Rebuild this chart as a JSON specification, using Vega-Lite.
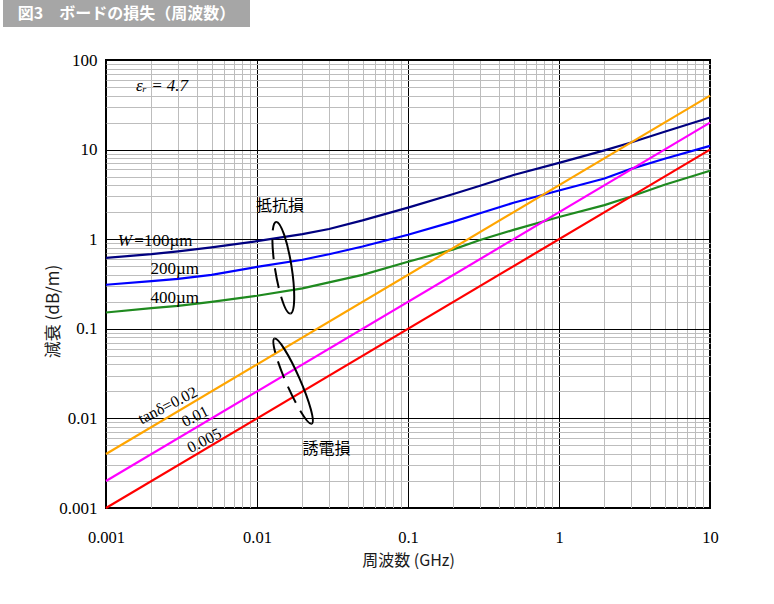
{
  "$schema": "https://vega.github.io/schema/vega-lite/v6.json",
  "padding": 0,
  "background": "white",
  "config": {"view": {"stroke": null}, "font": "Liberation Serif"},
  "bounds": "flush",
  "spacing": 33,
  "datasets": {
    "header": [{"t": "図3　ボードの損失（周波数）"}],
    "curves": [
      {"series": "W=100µm", "f": 0.001, "a": 0.62},
      {"series": "W=100µm", "f": 0.002, "a": 0.68},
      {"series": "W=100µm", "f": 0.003, "a": 0.73},
      {"series": "W=100µm", "f": 0.005, "a": 0.81},
      {"series": "W=100µm", "f": 0.01, "a": 0.95},
      {"series": "W=100µm", "f": 0.02, "a": 1.14},
      {"series": "W=100µm", "f": 0.03, "a": 1.3},
      {"series": "W=100µm", "f": 0.05, "a": 1.62},
      {"series": "W=100µm", "f": 0.1, "a": 2.25},
      {"series": "W=100µm", "f": 0.2, "a": 3.2},
      {"series": "W=100µm", "f": 0.3, "a": 3.95},
      {"series": "W=100µm", "f": 0.5, "a": 5.2},
      {"series": "W=100µm", "f": 1, "a": 7.1},
      {"series": "W=100µm", "f": 2, "a": 9.8},
      {"series": "W=100µm", "f": 3, "a": 12.0},
      {"series": "W=100µm", "f": 5, "a": 15.8},
      {"series": "W=100µm", "f": 10, "a": 22.8},
      {"series": "200µm", "f": 0.001, "a": 0.31},
      {"series": "200µm", "f": 0.002, "a": 0.34},
      {"series": "200µm", "f": 0.003, "a": 0.36},
      {"series": "200µm", "f": 0.005, "a": 0.4},
      {"series": "200µm", "f": 0.01, "a": 0.49},
      {"series": "200µm", "f": 0.02, "a": 0.59},
      {"series": "200µm", "f": 0.03, "a": 0.68},
      {"series": "200µm", "f": 0.05, "a": 0.83},
      {"series": "200µm", "f": 0.1, "a": 1.12},
      {"series": "200µm", "f": 0.2, "a": 1.57},
      {"series": "200µm", "f": 0.3, "a": 1.95},
      {"series": "200µm", "f": 0.5, "a": 2.55},
      {"series": "200µm", "f": 1, "a": 3.5},
      {"series": "200µm", "f": 2, "a": 4.75},
      {"series": "200µm", "f": 3, "a": 6.1},
      {"series": "200µm", "f": 5, "a": 7.9},
      {"series": "200µm", "f": 10, "a": 11.0},
      {"series": "400µm", "f": 0.001, "a": 0.152},
      {"series": "400µm", "f": 0.002, "a": 0.17},
      {"series": "400µm", "f": 0.003, "a": 0.18},
      {"series": "400µm", "f": 0.005, "a": 0.2},
      {"series": "400µm", "f": 0.01, "a": 0.234},
      {"series": "400µm", "f": 0.02, "a": 0.283},
      {"series": "400µm", "f": 0.03, "a": 0.33},
      {"series": "400µm", "f": 0.05, "a": 0.4},
      {"series": "400µm", "f": 0.1, "a": 0.56},
      {"series": "400µm", "f": 0.2, "a": 0.77},
      {"series": "400µm", "f": 0.3, "a": 0.98},
      {"series": "400µm", "f": 0.5, "a": 1.27},
      {"series": "400µm", "f": 1, "a": 1.77},
      {"series": "400µm", "f": 2, "a": 2.4},
      {"series": "400µm", "f": 3, "a": 3.0},
      {"series": "400µm", "f": 5, "a": 4.05},
      {"series": "400µm", "f": 10, "a": 5.8},
      {"series": "tanδ=0.02", "f": 0.001, "a": 0.004},
      {"series": "tanδ=0.02", "f": 10, "a": 40},
      {"series": "tanδ=0.01", "f": 0.001, "a": 0.002},
      {"series": "tanδ=0.01", "f": 10, "a": 20},
      {"series": "tanδ=0.005", "f": 0.001, "a": 0.001},
      {"series": "tanδ=0.005", "f": 10, "a": 10}
    ],
    "serifLabels": [
      {"t": "=100µm", "f": 0.00154, "a": 0.945},
      {"t": "200µm", "f": 0.00197, "a": 0.46},
      {"t": "400µm", "f": 0.00197, "a": 0.219}
    ],
    "italicLabels": [
      {"t": "W", "f": 0.001196, "a": 0.945},
      {"t": "εᵣ = 4.7", "f": 0.00158, "a": 51.2}
    ],
    "cjkLabels": [
      {"t": "抵抗損", "f": 0.01422, "a": 2.32},
      {"t": "誘電損", "f": 0.0289, "a": 0.00458}
    ],
    "tanLabels": [
      {"t": "tanδ=0.02", "f": 0.002564, "a": 0.01396},
      {"t": "0.01", "f": 0.00389, "a": 0.01051},
      {"t": "0.005", "f": 0.00448, "a": 0.00564}
    ],
    "ellipseR": [{"f": 0.01493, "a": 0.4804}],
    "ellipseD": [{"f": 0.01734, "a": 0.02603}]
  },
  "vconcat": [
    {
      "width": 247,
      "height": 27,
      "view": {"fill": "#a6a6a6", "stroke": null},
      "data": {"name": "header"},
      "mark": {"type": "text", "color": "white", "font": "Noto Sans CJK JP", "fontWeight": "bold", "fontSize": 16, "align": "center", "baseline": "middle"},
      "encoding": {"text": {"field": "t"}}
    },
    {
      "bounds": "flush",
      "spacing": 102,
      "hconcat": [
        {
          "width": 1,
          "height": 1,
          "data": {"name": "header"},
          "mark": {"type": "point", "opacity": 0}
        },
        {
          "width": 604,
          "height": 448,
          "view": {"stroke": "black", "strokeWidth": 2},
          "layer": [
            {
              "data": {"name": "curves"},
              "mark": {"type": "line", "strokeWidth": 2.2},
              "encoding": {
                "x": {
                  "field": "f", "type": "quantitative",
                  "scale": {"type": "log", "domain": [0.001, 10], "nice": false},
                  "axis": {
                    "values": [0.001,0.002,0.003,0.004,0.005,0.006,0.007,0.008,0.009,0.01,0.02,0.03,0.04,0.05,0.06,0.07,0.08,0.09,0.1,0.2,0.3,0.4,0.5,0.6,0.7,0.8,0.9,1,2,3,4,5,6,7,8,9,10],
                    "grid": true,
                    "gridColor": {"condition": {"test": "abs(log(datum.value)/LN10 - round(log(datum.value)/LN10)) < 0.001", "value": "#000000"}, "value": "#bdbdbd"},
                    "gridWidth": 1,
                    "ticks": false,
                    "domain": false,
                    "labelExpr": "abs(log(datum.value)/LN10 - round(log(datum.value)/LN10)) < 0.001 ? format(datum.value, '~g') : ''",
                    "labelOverlap": false,
                    "labelFlush": false,
                    "labelFont": "Liberation Serif",
                    "labelFontSize": 16.5,
                    "labelColor": "#000000",
                    "labelPadding": 21,
                    "title": "周波数 (GHz)",
                    "titleFont": "Noto Sans CJK JP",
                    "titleFontSize": 16,
                    "titleFontWeight": "normal",
                    "titleColor": "#1a1a1a",
                    "titleY": 52,
                    "titleBaseline": "middle"
                  }
                },
                "y": {
                  "field": "a", "type": "quantitative",
                  "scale": {"type": "log", "domain": [0.001, 100], "nice": false},
                  "axis": {
                    "values": [0.001,0.002,0.003,0.004,0.005,0.006,0.007,0.008,0.009,0.01,0.02,0.03,0.04,0.05,0.06,0.07,0.08,0.09,0.1,0.2,0.3,0.4,0.5,0.6,0.7,0.8,0.9,1,2,3,4,5,6,7,8,9,10,20,30,40,50,60,70,80,90,100],
                    "grid": true,
                    "gridColor": {"condition": {"test": "abs(log(datum.value)/LN10 - round(log(datum.value)/LN10)) < 0.001", "value": "#000000"}, "value": "#bdbdbd"},
                    "gridWidth": 1,
                    "ticks": false,
                    "domain": false,
                    "labelExpr": "abs(log(datum.value)/LN10 - round(log(datum.value)/LN10)) < 0.001 ? format(datum.value, '~g') : ''",
                    "labelOverlap": false,
                    "labelFlush": false,
                    "labelFont": "Liberation Serif",
                    "labelFontSize": 17,
                    "labelColor": "#000000",
                    "labelPadding": 9,
                    "title": "減衰 (dB/m)",
                    "titleFont": "Noto Sans CJK JP",
                    "titleFontSize": 17,
                    "titleFontWeight": "normal",
                    "titleColor": "#1a1a1a",
                    "titleX": -53,
                    "titleY": 251,
                    "titleBaseline": "middle",
                    "titleAlign": "center",
                    "titleAngle": -90
                  }
                },
                "color": {
                  "field": "series", "type": "nominal",
                  "scale": {
                    "domain": ["W=100µm", "200µm", "400µm", "tanδ=0.02", "tanδ=0.01", "tanδ=0.005"],
                    "range": ["#000080", "#0000ff", "#1f8a1f", "#ffa500", "#ff00ff", "#ff0000"]
                  },
                  "legend": null
                }
              }
            },
            {
              "data": {"name": "ellipseR"},
              "mark": {"type": "point", "shape": "M0,-1C0.0994,-1,0.18,-0.5523,0.18,0C0.18,0.5523,0.0994,1,0,1", "size": 8600, "angle": -8.9, "filled": false, "stroke": "#000000", "strokeWidth": 2, "opacity": 1},
              "encoding": {"x": {"field": "f", "type": "quantitative"}, "y": {"field": "a", "type": "quantitative"}}
            },
            {
              "data": {"name": "ellipseR"},
              "mark": {"type": "point", "shape": "M0,1C-0.0994,1,-0.18,0.5523,-0.18,0C-0.18,-0.5523,-0.0994,-1,0,-1", "size": 8600, "angle": -8.9, "filled": false, "stroke": "#000000", "strokeWidth": 2, "strokeDash": [20, 9], "opacity": 1},
              "encoding": {"x": {"field": "f", "type": "quantitative"}, "y": {"field": "a", "type": "quantitative"}}
            },
            {
              "data": {"name": "ellipseD"},
              "mark": {"type": "point", "shape": "M0,-1C0.0829,-1,0.15,-0.5523,0.15,0C0.15,0.5523,0.0829,1,0,1", "size": 8630, "angle": -23.7, "filled": false, "stroke": "#000000", "strokeWidth": 2, "opacity": 1},
              "encoding": {"x": {"field": "f", "type": "quantitative"}, "y": {"field": "a", "type": "quantitative"}}
            },
            {
              "data": {"name": "ellipseD"},
              "mark": {"type": "point", "shape": "M0,1C-0.0829,1,-0.15,0.5523,-0.15,0C-0.15,-0.5523,-0.0829,-1,0,-1", "size": 8630, "angle": -23.7, "filled": false, "stroke": "#000000", "strokeWidth": 2, "strokeDash": [18, 9], "opacity": 1},
              "encoding": {"x": {"field": "f", "type": "quantitative"}, "y": {"field": "a", "type": "quantitative"}}
            },
            {
              "data": {"name": "serifLabels"},
              "mark": {"type": "text", "font": "Liberation Serif", "fontSize": 17, "align": "left", "baseline": "middle", "color": "#000000"},
              "encoding": {"x": {"field": "f", "type": "quantitative"}, "y": {"field": "a", "type": "quantitative"}, "text": {"field": "t"}}
            },
            {
              "data": {"name": "italicLabels"},
              "mark": {"type": "text", "font": "Liberation Serif", "fontStyle": "italic", "fontSize": 17, "align": "left", "baseline": "middle", "color": "#000000"},
              "encoding": {"x": {"field": "f", "type": "quantitative"}, "y": {"field": "a", "type": "quantitative"}, "text": {"field": "t"}}
            },
            {
              "data": {"name": "cjkLabels"},
              "mark": {"type": "text", "font": "Noto Sans CJK JP", "fontSize": 16, "align": "center", "baseline": "middle", "color": "#000000"},
              "encoding": {"x": {"field": "f", "type": "quantitative"}, "y": {"field": "a", "type": "quantitative"}, "text": {"field": "t"}}
            },
            {
              "data": {"name": "tanLabels"},
              "mark": {"type": "text", "font": "Liberation Serif", "fontSize": 16, "align": "center", "baseline": "middle", "angle": -27, "color": "#000000"},
              "encoding": {"x": {"field": "f", "type": "quantitative"}, "y": {"field": "a", "type": "quantitative"}, "text": {"field": "t"}}
            }
          ]
        }
      ]
    }
  ]
}
